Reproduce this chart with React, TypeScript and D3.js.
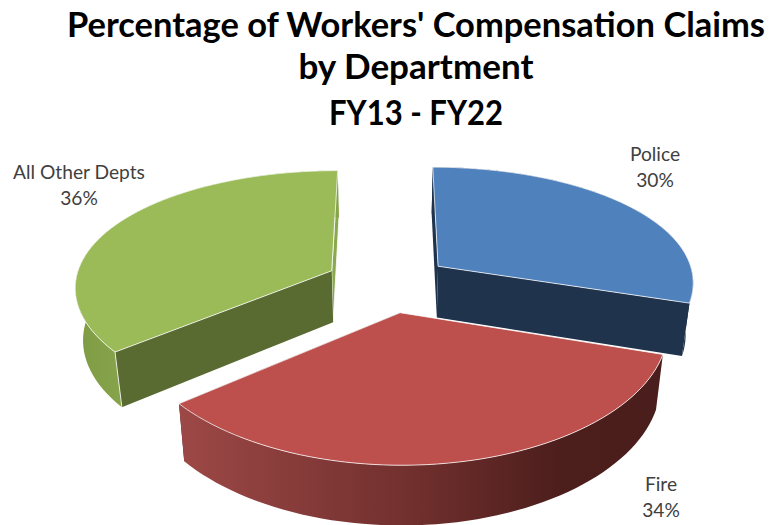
import React from "react";
import * as d3 from "d3";

const categories = ["Police", "Fire", "All Other Depts"];
const shares = [30, 34, 36];
const titleLines = ["Percentage of Workers' Compensation Claims", "by Department", "FY13 - FY22"];

const W = 771, H = 525;
const CX = 388, CY = 283, RX = 257, RY = 119, PERSP = 0.153, EXPLODE = 0.245;
const DEPTH = 52, SHRINK = 0.975;
const FONT = "Lato, 'Open Sans', sans-serif";
const titleLayout = [
  { y: 37, w: 698 },
  { y: 79, w: 235 },
  { y: 125, w: 174 },
];

type Look = { top: string; wall: string; stops: [number, string][]; x0: number; x1: number; labelX: number; labelY: number };
const looks: Look[] = [
  { top: "#4f81bd", wall: "#1f334d", stops: [[0, "#1f334d"], [1, "#1f334d"]], x0: 430, x1: 690, labelX: 655, labelY: 161 },
  { top: "#bd4f4c", wall: "#4a1e1c", stops: [[0, "#9c4846"], [0.5, "#6e2e2c"], [0.78, "#4c1e1c"], [1, "#4a1e1c"]], x0: 183, x1: 667, labelX: 661, labelY: 491 },
  { top: "#9bbb59", wall: "#5a6b32", stops: [[0, "#7f9c45"], [1, "#86a44b"]], x0: 77, x1: 122, labelX: 79, labelY: 179 },
];

const pieGen = d3.pie<number>().sort(null).value((d) => d);
const arcs = pieGen(shares);
const line = d3.line<[number, number]>();
const pct = d3.format(".0%");
const total = d3.sum(shares);

function project(X: number, Y: number, lower: boolean): [number, number] {
  const s = 1 / (1 - PERSP * Y);
  const x = RX * X * Math.pow(s, 0.8);
  const y = RY * Y * s;
  if (!lower) return [CX + x, CY + y];
  return [CX + x * SHRINK, CY + y + DEPTH * Math.pow(s, 0.7)];
}

function slicePaths(a0: number, a1: number) {
  const mid = (a0 + a1) / 2;
  const ox = EXPLODE * Math.sin(mid);
  const oy = -EXPLODE * Math.cos(mid);
  const rim = (t: number, lower: boolean) => project(ox + Math.sin(t), oy - Math.cos(t), lower);
  const apex = (lower: boolean) => project(ox, oy, lower);
  const angles = d3.range(0, 61).map((i) => a0 + ((a1 - a0) * i) / 60);
  const topRim = angles.map((t) => rim(t, false));
  const lowRim = angles.map((t) => rim(t, true));
  const top = line([apex(false), ...topRim]) + "Z";
  const outer = line([...topRim, ...[...lowRim].reverse()]) + "Z";
  const wallAt = (t: number) => line([apex(false), rim(t, false), rim(t, true), apex(true)]) + "Z";
  const corner = (t: number) => line([rim(t, false), rim(t, true)]) as string;
  return { top, outer, startWall: wallAt(a0), endWall: wallAt(a1), corner };
}

const drawOrder = [2, 0, 1];

export default function App() {
  return (
    <svg width={W} height={H} style={{ position: "absolute", left: 0, top: 0, background: "#fff" }}>
      <defs>
        {looks.map((l, i) => (
          <linearGradient key={i} id={`wall${i}`} gradientUnits="userSpaceOnUse" x1={l.x0} x2={l.x1} y1={0} y2={0}>
            {l.stops.map(([o, c], j) => (
              <stop key={j} offset={o} stopColor={c} />
            ))}
          </linearGradient>
        ))}
      </defs>
      <g fontFamily={FONT} fontWeight={700} fontSize={34.5} textAnchor="middle" fill="#000">
        {titleLines.map((t, i) => (
          <text key={t} x={416} y={titleLayout[i].y} textLength={titleLayout[i].w} lengthAdjust="spacingAndGlyphs">{t}</text>
        ))}
      </g>
      {drawOrder.map((i) => {
        const a = arcs[i];
        const look = looks[i];
        const p = slicePaths(a.startAngle, a.endAngle);
        const isGreen = i === 2;
        return (
          <g key={i}>
            <path d={p.endWall} fill={isGreen ? "#8aa84e" : look.wall} stroke="#fff" strokeOpacity={isGreen ? 0.8 : 0} strokeWidth={1} />
            <path d={p.outer} fill={`url(#wall${i})`} />
            <path d={p.startWall} fill={look.wall} opacity={i === 1 ? 0 : 1} />
            {isGreen && <path d={p.corner(a.startAngle)} stroke="#fff" strokeOpacity={0.8} strokeWidth={1} fill="none" />}
            <path d={p.top} fill={look.top} stroke="#fff" strokeOpacity={0.75} strokeWidth={1} strokeLinejoin="round" />
          </g>
        );
      })}
      <g fontFamily={FONT} fontSize={19.2} textAnchor="middle" fill="#404040">
        {categories.map((c, i) => (
          <text key={c} x={looks[i].labelX} y={looks[i].labelY}>
            <tspan x={looks[i].labelX}>{c}</tspan>
            <tspan x={looks[i].labelX} dy={26}>{pct(shares[i] / total)}</tspan>
          </text>
        ))}
      </g>
    </svg>
  );
}
